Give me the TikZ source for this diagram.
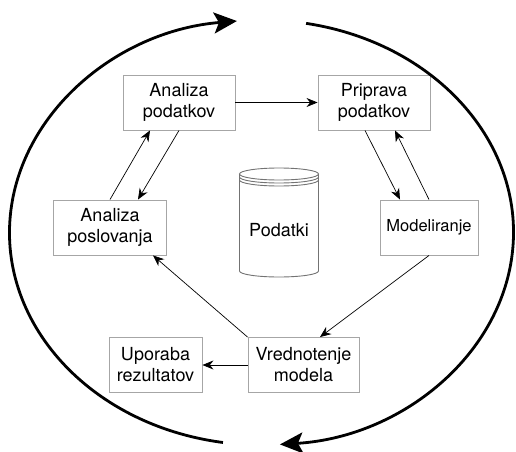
\documentclass[tikz,border=0pt]{standalone}
\usepackage{fontspec}
\setmainfont{TeX Gyre Heros}
\usetikzlibrary{arrows.meta}

\begin{document}
\begin{tikzpicture}[x=1pt, y=1pt,
    faza/.style={draw=black!35, line width=0.9pt, align=center, minimum height=55pt, inner sep=1pt, font=\fontsize{18}{21}\selectfont},
    puscica/.style={-{Stealth[length=11pt,width=9pt]}, line width=0.7pt},
    krog/.style={line width=2.8pt, -{Stealth[length=23pt,width=21pt,inset=5pt]}},
    valj/.style={draw=black!55, line width=0.9pt}]
\useasboundingbox (0,0) rectangle (516,451);
\node[faza, minimum width=112pt] (apod) at (179, 348.5){Analiza\\podatkov};
\node[faza, minimum width=112pt] (ppod) at (374, 348.5){Priprava\\podatkov};
\node[faza, minimum width=113pt] (apos) at (110, 223.5){Analiza\\poslovanja};
\node[faza, minimum width=98pt, font=\fontsize{16.5}{20}\selectfont] (model) at (429, 223.5){Modeliranje};
\node[faza, minimum width=93pt] (upor) at (155.5, 86){Uporaba\\rezultatov};
\node[faza, minimum width=111pt] (vred) at (303.5, 86){Vrednotenje\\modela};
\node[font=\fontsize{18}{21}\selectfont] (podatki) at (279, 221){Podatki};
% valj za podatke
\draw[valj] (279,277) ellipse [x radius=39.5pt, y radius=6pt];
\draw[valj] (239.5,274) arc[start angle=180, end angle=360, x radius=39.5pt, y radius=6pt];
\draw[valj] (239.5,271) arc[start angle=180, end angle=360, x radius=39.5pt, y radius=6pt];
\draw[valj] (239.5,277) -- (239.5,180) arc[start angle=180, end angle=360, x radius=39.5pt, y radius=6pt] -- (318.5,277);
% puscice med fazami
\draw[puscica] (apod.east) -- (ppod.west);
\draw[puscica] (apos.north) -- ([xshift=-29pt]apod.south);
\draw[puscica] (apod.south) -- ([xshift=28pt]apos.north);
\draw[puscica] ([xshift=-9pt]ppod.south) -- ([xshift=-29pt]model.north);
\draw[puscica] (model.north) -- ([xshift=21pt]ppod.south);
\draw[puscica] (model.south) -- ([xshift=16.5pt]vred.north);
\draw[puscica] (vred.north west) -- ([xshift=43pt]apos.south);
\draw[puscica] (vred.west) -- (upor.east);
% krog
\coordinate (m) at (261.5, 218.5);
\draw[krog] ([shift={(261.2:252pt and 212.5pt)}]m) arc[start angle=261.2, end angle=95.6, x radius=252pt, y radius=212.5pt];
\draw[krog] ([shift={(79.8:252pt and 212.5pt)}]m) arc[start angle=79.8, end angle=-85.8, x radius=252pt, y radius=212.5pt];
\end{tikzpicture}
\end{document}
